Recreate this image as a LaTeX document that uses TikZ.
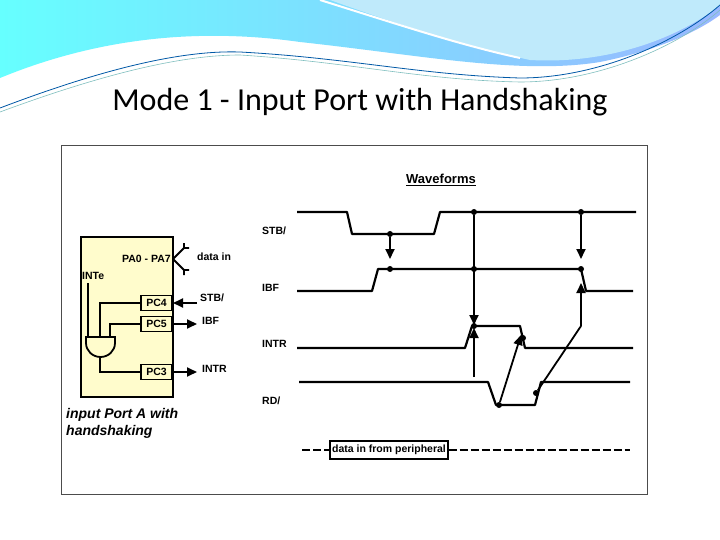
\documentclass[tikz,border=0pt]{standalone}
\usepackage{fontspec}
\setmainfont{Liberation Sans}
\newfontfamily\titlefont{Carlito}
\usetikzlibrary{arrows.meta}
\begin{document}
\begin{tikzpicture}[x=1pt,y=-1pt,
  wave/.style={line width=2.2pt,line join=round},
  lbl/.style={font=\bfseries\fontsize{10.5}{12}\selectfont,inner sep=0pt},
  dotc/.style={circle,fill=black,inner sep=0pt,minimum size=6pt},
  arr/.style={line width=1.8pt,-{Triangle[length=10pt,width=9pt]}},
  pcbox/.style={draw,line width=1.8pt,fill=yellow!20,minimum width=31pt,minimum height=15pt,inner sep=0pt,font=\bfseries\fontsize{10.5}{12}\selectfont}]
\useasboundingbox (0,0) rectangle (720,540);
\fill[white] (0,0) rectangle (720,540);
% top decoration
\shade[left color=cyan!60!white,right color=cyan!30!blue!40!white] (0,0) -- (0,78) .. controls (80,45) and (180,25) .. (300,42) .. controls (420,55) and (520,75) .. (600,62) .. controls (660,50) and (700,30) .. (720,15) -- (720,0) -- cycle;
\fill[cyan!25!white] (330,0) .. controls (400,25) and (460,45) .. (530,60) .. controls (620,65) and (690,30) .. (720,5) -- (720,0) -- cycle;
\draw[white,line width=2pt] (320,0) .. controls (400,25) and (460,45) .. (520,58);
\draw[teal!70!blue,line width=0.8pt] (0,108) .. controls (100,70) and (180,50) .. (240,52) .. controls (350,58) and (420,75) .. (520,78) .. controls (600,78) and (680,40) .. (720,5);
\draw[teal!50!white,line width=0.6pt] (0,112) .. controls (100,75) and (180,55) .. (240,55) .. controls (350,62) and (420,80) .. (520,82) .. controls (600,82) and (680,45) .. (720,10);
% title
\node[font=\titlefont\fontsize{32}{36}\selectfont] (title) at (360,102) {Mode 1 - Input Port with Handshaking};
% frame
\draw[line width=0.8pt,black!70] (61,145) rectangle (647,494);
\node[lbl,font=\bfseries\fontsize{13}{15}\selectfont] (wf) at (441,180) {\underline{Waveforms}};
% left block
\draw[line width=1.8pt,fill=yellow!20] (81,237) rectangle (173,397);
\node[pcbox,anchor=east] (pc4) at (173,303) {PC4};
\node[pcbox,anchor=east] (pc5) at (173,324) {PC5};
\node[pcbox,anchor=east] (pc3) at (173,372) {PC3};
\node[lbl,anchor=east] (pa) at (171,259) {PA0 - PA7};
\node[lbl,anchor=west] (inte) at (82,276) {INTe};
\draw[line width=1.8pt] (173,259) -- (184,248) -- (184,243) (184,248) -- (189,248)
  (173,259) -- (184,270) -- (184,275) (184,270) -- (189,270);
\node[lbl,anchor=west] (din) at (197,257) {data in};
% AND gate
\draw[line width=1.8pt] (86,337) -- (115,337) -- (115,343) arc (0:180:14.5 and 14) -- cycle;
\draw[line width=1.8pt] (88,283) -- (88,337);
\draw[line width=1.8pt] (pc4.west) -| (100,337);
\draw[line width=1.8pt] (pc5.west) -| (110,337);
\draw[line width=1.8pt] (100,357) |- (pc3.west);
\coordinate (stbin) at (197,303);
\coordinate (ibfout) at (197,324);
\coordinate (introut) at (197,372);
\draw[arr] (stbin) -- (pc4.east);
\draw[arr] (pc5.east) -- (ibfout);
\draw[arr] (pc3.east) -- (introut);
\node[lbl,anchor=west] (lstb) at (200,298) {STB/};
\node[lbl,anchor=west] (libf) at (202,321) {IBF};
\node[lbl,anchor=west] (lintr) at (202,369) {INTR};
\node[font=\bfseries\itshape\fontsize{14}{17}\selectfont,anchor=north west,align=left,inner sep=0pt] (cap) at (66,408) {input Port A with\\handshaking};
% waveform labels
\node[lbl,anchor=west] (wstb) at (262,231) {STB/};
\node[lbl,anchor=west] (wibf) at (262,288) {IBF};
\node[lbl,anchor=west] (wintr) at (262,344) {INTR};
\node[lbl,anchor=west] (wrd) at (262,401) {RD/};
% waveforms
\draw[wave] (297,212) -- (347,212) -- (352,234) -- (434,234) -- (440,212) -- (636,212);
\draw[wave] (297,291) -- (372,291) -- (378,269) -- (581,269) -- (586,291) -- (633,291);
\draw[wave] (297,348) -- (465,348) -- (472,326) -- (520,326) -- (525,348) -- (633,348);
\draw[wave] (299,382) -- (488,382) -- (496,405) -- (535,405) -- (541,382) -- (630,382);
% dots
\node[dotc] (s1) at (390,234) {};
\node[dotc] (s2) at (474,212) {};
\node[dotc] (s3) at (581,212) {};
\node[dotc] (i1) at (390,269) {};
\node[dotc] (i2) at (474,269) {};
\node[dotc] (i3) at (581,269) {};
\node[dotc] (n1) at (474,326) {};
\node[dotc] (n2) at (523,338) {};
\node[dotc] (r1) at (499,405) {};
\node[dotc] (r2) at (536,393) {};
\coordinate (ibfhit) at (581,283);
\coordinate (rdup) at (474,377);
\coordinate (rdkink) at (581,326);
% arrows
\draw[arr] (s1) -- (390,259);
\draw[arr] (s2) -- (474,325);
\draw[arr] (s3) -- (581,259);
\draw[arr] (rdup) -- (474,328);
\draw[arr] (r1) -- (521,335);
\draw[line width=1.8pt] (r2) -- (rdkink);
\draw[arr] (rdkink) -- (ibfhit);
% data bus
\node[draw,line width=1.5pt,font=\bfseries\fontsize{10.5}{12}\selectfont,minimum height=18pt,inner sep=2pt] (dbox) at (389,450) {data in from peripheral};
\coordinate (dl) at (302,450);
\coordinate (dr) at (630,450);
\draw[line width=2pt,dash pattern=on 8pt off 3pt] (dl) -- (dbox.west);
\draw[line width=2pt,dash pattern=on 8pt off 3pt] (dbox.east) -- (dr);
\end{tikzpicture}
\end{document}
